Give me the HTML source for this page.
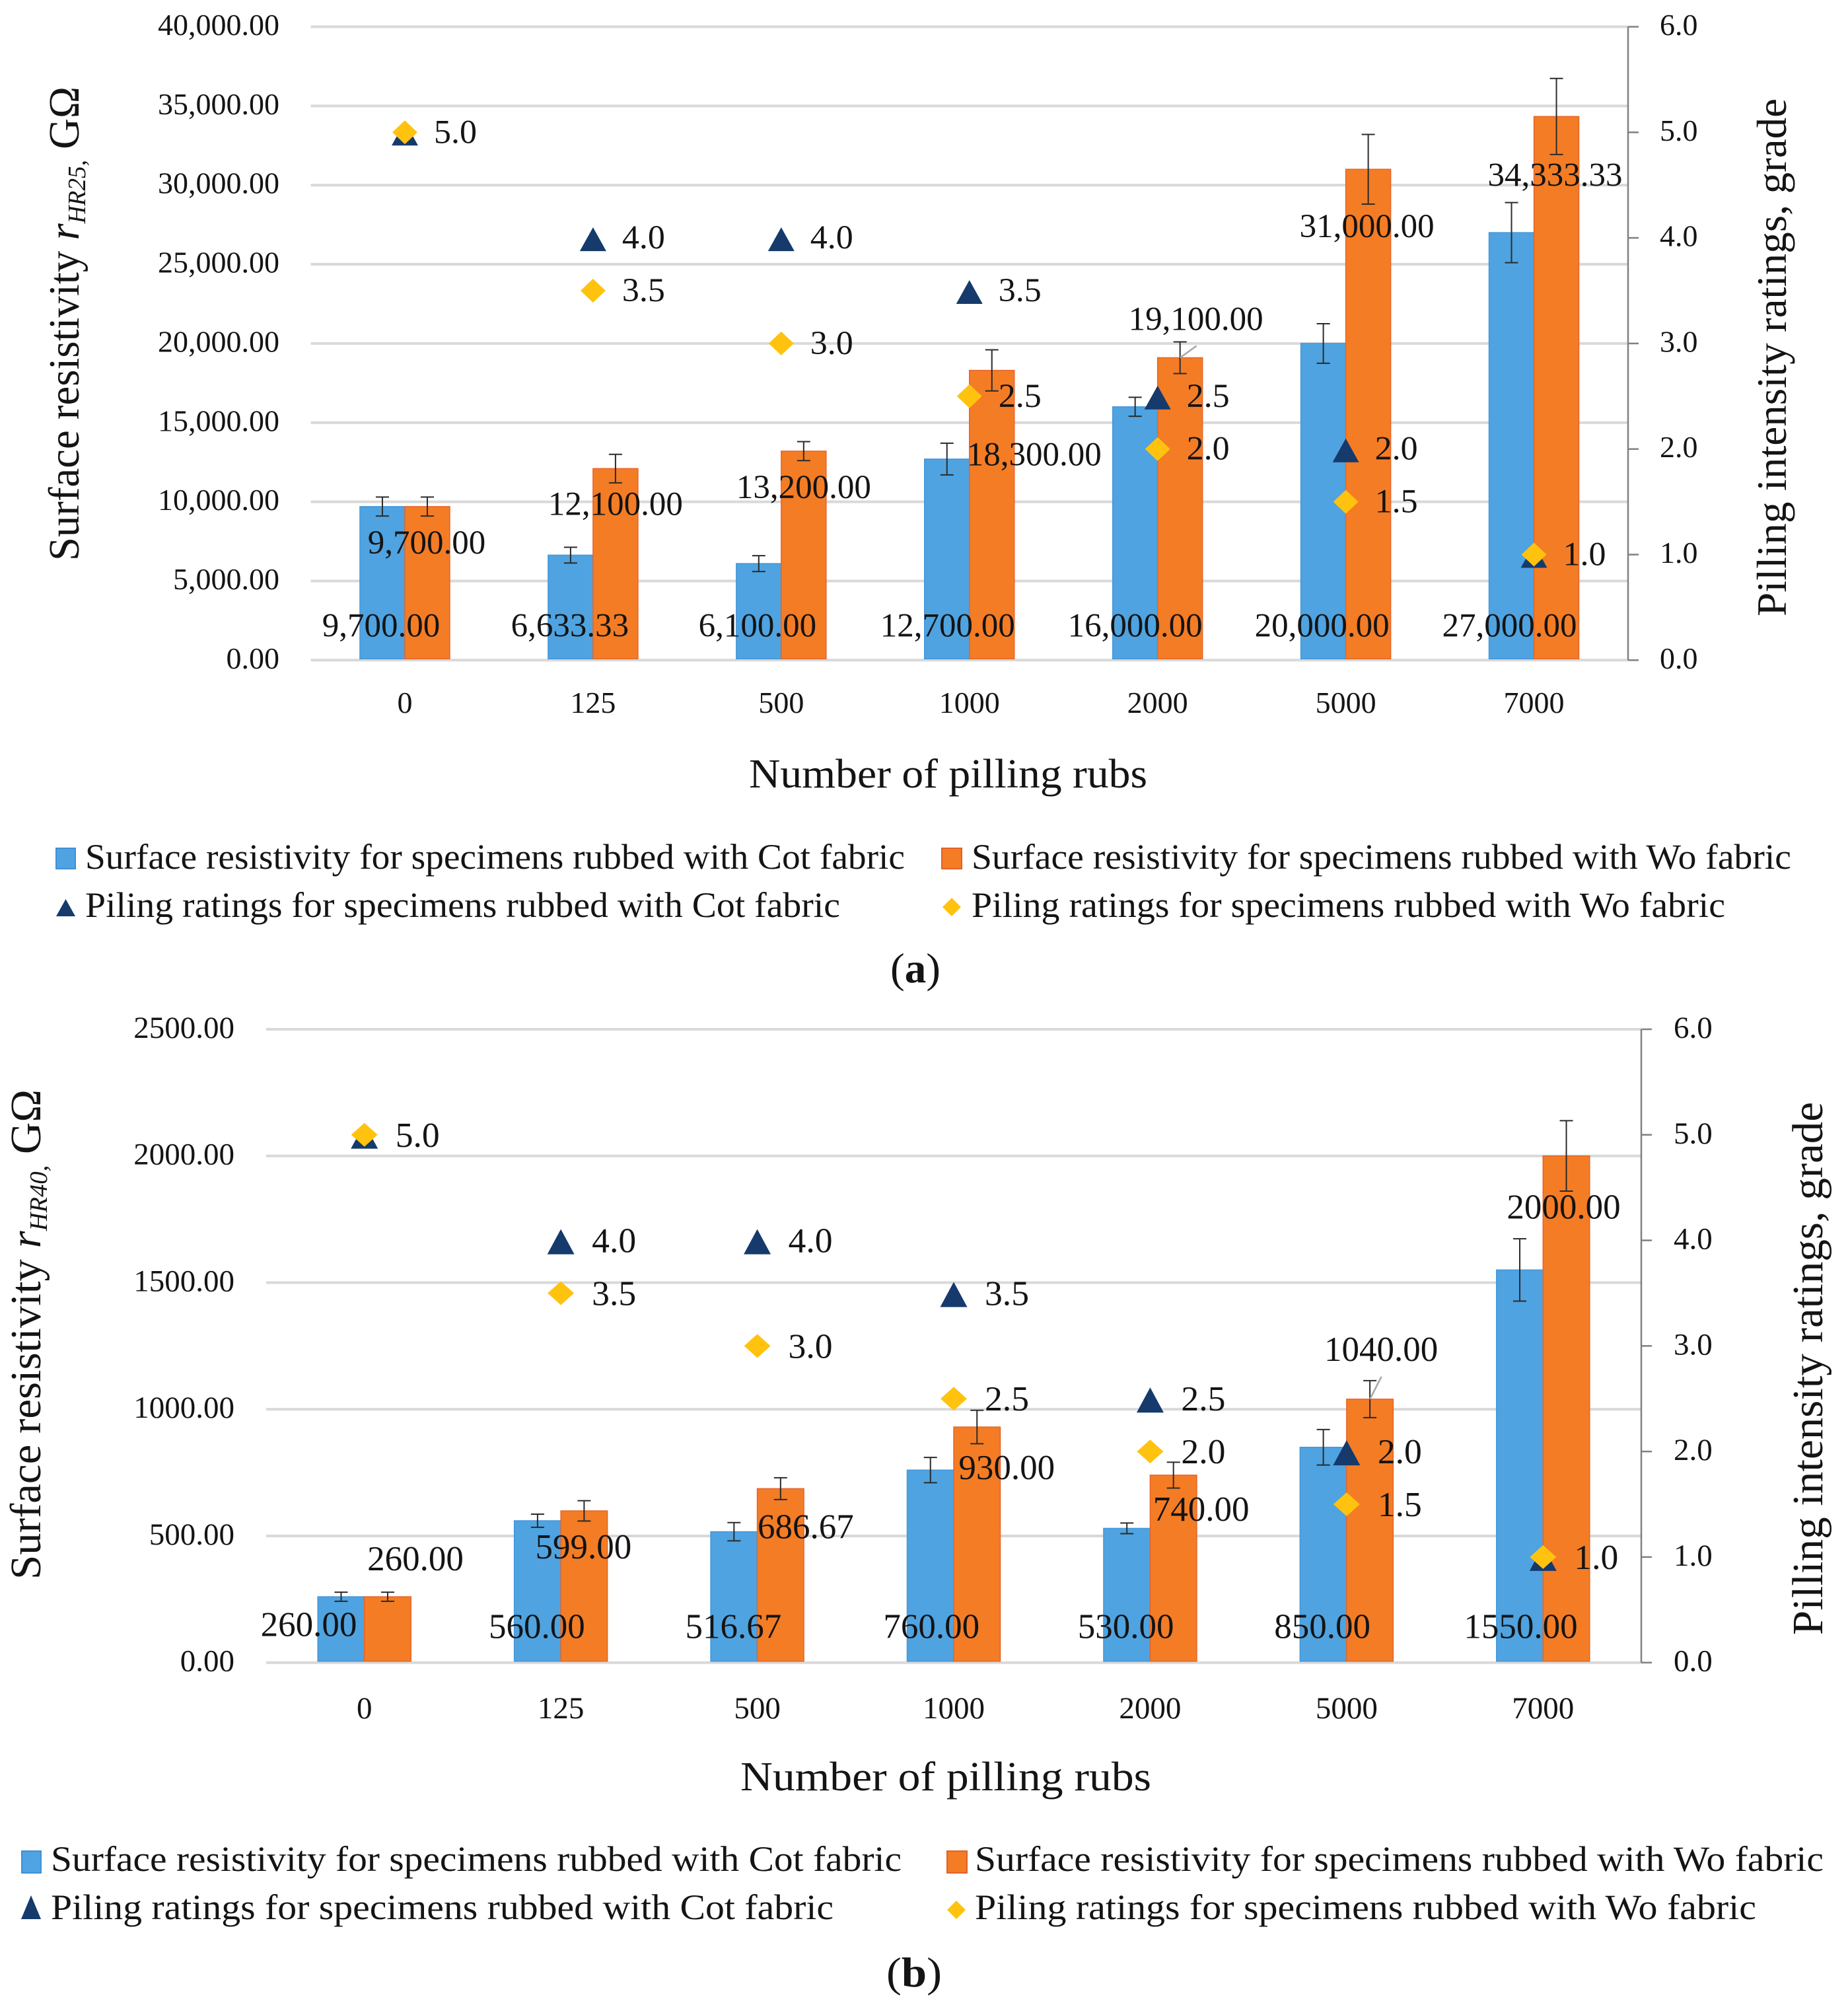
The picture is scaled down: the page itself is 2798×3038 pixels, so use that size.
<!DOCTYPE html>
<html>
<head>
<meta charset="utf-8">
<title>Surface resistivity and pilling ratings</title>
<style>
html,body{margin:0;padding:0;background:#fff;}
svg{display:block;}
text{font-family:"Liberation Serif",serif;fill:#141414;}
</style>
</head>
<body>
<svg id="figure" xmlns="http://www.w3.org/2000/svg" width="2798" height="3038" viewBox="0 0 2798 3038">
  <rect width="2798" height="3038" fill="#ffffff"/>
  <g id="chart-a"></g>
  <g id="chart-b"></g>

  <text x="1134" y="1192" font-size="62" textLength="603" lengthAdjust="spacingAndGlyphs">Number of pilling rubs</text>
  <text transform="translate(119,849) rotate(-90)" font-size="66" textLength="718" lengthAdjust="spacingAndGlyphs">Surface resistivity <tspan font-style="italic">r</tspan><tspan font-style="italic" font-size="38" dy="10">HR25,</tspan><tspan dy="-10"> GΩ</tspan></text>
  <text transform="translate(2704,933) rotate(-90)" font-size="64" textLength="784" lengthAdjust="spacingAndGlyphs">Pilling intensity ratings, grade</text>

  <g>
    <rect x="85" y="1284" width="29" height="31" fill="#4fa3e0" stroke="#3f8fd6" stroke-width="2"/>
    <text x="129" y="1315" font-size="54" textLength="1241" lengthAdjust="spacingAndGlyphs">Surface resistivity for specimens rubbed with Cot fabric</text>
    <rect x="1426" y="1284" width="30" height="31" fill="#f47c25" stroke="#e2602a" stroke-width="2"/>
    <text x="1471" y="1315" font-size="54" textLength="1241" lengthAdjust="spacingAndGlyphs">Surface resistivity for specimens rubbed with Wo fabric</text>
    <polygon points="85,1387 114,1387 99.5,1361" fill="#153a6b"/>
    <text x="129" y="1388" font-size="54" textLength="1143" lengthAdjust="spacingAndGlyphs">Piling ratings for specimens rubbed with Cot fabric</text>
    <polygon points="1441,1359 1455,1373 1441,1387 1427,1373" fill="#ffc30f"/>
    <text x="1471" y="1388" font-size="54" textLength="1141" lengthAdjust="spacingAndGlyphs">Piling ratings for specimens rubbed with Wo fabric</text>
  </g>
  <text x="1348" y="1487" font-size="64" textLength="76" lengthAdjust="spacingAndGlyphs">(<tspan font-weight="bold">a</tspan>)</text>

  <text x="1121" y="2710" font-size="62" textLength="622" lengthAdjust="spacingAndGlyphs">Number of pilling rubs</text>
  <text transform="translate(61,2391) rotate(-90)" font-size="66" textLength="742" lengthAdjust="spacingAndGlyphs">Surface resistivity <tspan font-style="italic">r</tspan><tspan font-style="italic" font-size="38" dy="10">HR40,</tspan><tspan dy="-10"> GΩ</tspan></text>
  <text transform="translate(2759,2475) rotate(-90)" font-size="66" textLength="807" lengthAdjust="spacingAndGlyphs">Pilling intensity ratings, grade</text>

  <g>
    <rect x="33" y="2802" width="29" height="33" fill="#4fa3e0" stroke="#3f8fd6" stroke-width="2"/>
    <text x="77" y="2832" font-size="54" textLength="1288" lengthAdjust="spacingAndGlyphs">Surface resistivity for specimens rubbed with Cot fabric</text>
    <rect x="1434" y="2802" width="30" height="33" fill="#f47c25" stroke="#e2602a" stroke-width="2"/>
    <text x="1476" y="2832" font-size="54" textLength="1285" lengthAdjust="spacingAndGlyphs">Surface resistivity for specimens rubbed with Wo fabric</text>
    <polygon points="32,2905 62,2905 47,2869" fill="#153a6b"/>
    <text x="77" y="2905" font-size="54" textLength="1185" lengthAdjust="spacingAndGlyphs">Piling ratings for specimens rubbed with Cot fabric</text>
    <polygon points="1448,2877 1462,2891 1448,2905 1434,2891" fill="#ffc30f"/>
    <text x="1476" y="2905" font-size="54" textLength="1183" lengthAdjust="spacingAndGlyphs">Piling ratings for specimens rubbed with Wo fabric</text>
  </g>
  <text x="1342" y="3007" font-size="64" textLength="84" lengthAdjust="spacingAndGlyphs">(<tspan font-weight="bold">b</tspan>)</text>
</svg>

<script>
// ---- Shared categories ----
const categories = ["0", "125", "500", "1000", "2000", "5000", "7000"];
const ratingTicks = [0, 1, 2, 3, 4, 5, 6];

// ---- Chart (a) data ----
const aResistivityTicks = [0, 5000, 10000, 15000, 20000, 25000, 30000, 35000, 40000];
const aCotResistivity = [9700, 6633.33, 6100, 12700, 16000, 20000, 27000];
const aWoResistivity = [9700, 12100, 13200, 18300, 19100, 31000, 34333.33];
const aCotError = [600, 500, 500, 1000, 600, 1250, 1900];
const aWoError = [600, 900, 600, 1300, 1000, 2200, 2400];
const aCotRating = [5, 4, 4, 3.5, 2.5, 2, 1];
const aWoRating = [5, 3.5, 3, 2.5, 2, 1.5, 1];

// ---- Chart (b) data ----
const bResistivityTicks = [0, 500, 1000, 1500, 2000, 2500];
const bCotResistivity = [260, 560, 516.67, 760, 530, 850, 1550];
const bWoResistivity = [260, 599, 686.67, 930, 740, 1040, 2000];
const bCotError = [18, 26, 36, 50, 21, 70, 123];
const bWoError = [18, 40, 43, 66, 51, 73, 139];
const bCotRating = [5, 4, 4, 3.5, 2.5, 2, 1];
const bWoRating = [5, 3.5, 3, 2.5, 2, 1.5, 1];

const SVGNS = 'http://www.w3.org/2000/svg';

function mk(tag, attrs, parent, txt) {
  const e = document.createElementNS(SVGNS, tag);
  for (const k in attrs) e.setAttribute(k, attrs[k]);
  if (txt !== undefined) e.textContent = txt;
  parent.appendChild(e);
  return e;
}

function drawChart(d, L) {
  const root = document.getElementById(L.id);
  const n = d.categories.length;
  const band = (L.right - L.left) / n;
  const xCat = i => L.left + (i + 0.5) * band;
  const yRes = v => L.bottom - (v / L.resMax) * (L.bottom - L.top);
  const yRate = v => L.bottom - (v / L.rateMax) * (L.bottom - L.top);

  // gridlines and left tick labels
  d.resTicks.forEach(t => {
    const g = mk('line', {x1: L.left, x2: L.right, y1: yRes(t), y2: yRes(t), stroke: '#d9d9d9', 'stroke-width': 4}, root);
    
    
    const lab = mk('text', {x: L.leftTickX, y: yRes(t) + L.tickBase, 'text-anchor': 'end', 'font-size': L.tickFont}, root, L.fmtTick(t));
    
    
  });

  // right axis
  const axis = mk('line', {x1: L.right, x2: L.right, y1: L.top, y2: L.bottom, stroke: '#808080', 'stroke-width': 2.5}, root);
  
  
  d.rateTicks.forEach(t => {
    const tk = mk('line', {x1: L.right, x2: L.right + 16, y1: yRate(t), y2: yRate(t), stroke: '#808080', 'stroke-width': 2.5}, root);
    
    
    const lab = mk('text', {x: L.rightTickX, y: yRate(t) + L.tickBase, 'font-size': L.tickFont}, root, t.toFixed(1));
    
    
  });

  // bars
  d.categories.forEach((c, i) => {
    const x = xCat(i);
    const b1 = mk('rect', {x: x - L.barW, y: yRes(d.cot[i]), width: L.barW, height: L.bottom - yRes(d.cot[i]) - 2, fill: '#4fa3e0', stroke: '#4596da', 'stroke-width': 1.5}, root);
    
    
    const b2 = mk('rect', {x: x, y: yRes(d.wo[i]), width: L.barW, height: L.bottom - yRes(d.wo[i]) - 2, fill: '#f47c25', stroke: '#e5652a', 'stroke-width': 1.5}, root);
    
    
    const t = mk('text', {x: x, y: L.catBase, 'text-anchor': 'middle', 'font-size': L.tickFont}, root, c);
    
    
  });

  // error bars
  function err(cx, v, e, name) {
    const g = mk('path', {
      d: 'M' + (cx - 10) + ' ' + yRes(v + e) + 'H' + (cx + 10) + 'M' + cx + ' ' + yRes(v + e) + 'V' + yRes(v - e) + 'M' + (cx - 10) + ' ' + yRes(v - e) + 'H' + (cx + 10),
      fill: 'none', stroke: '#2b2b2b', 'stroke-width': 2
    }, root);
    
    
  }
  d.categories.forEach((c, i) => {
    err(xCat(i) - L.barW / 2, d.cot[i], d.cotErr[i], 'error-bar-cot-' + c);
    err(xCat(i) + L.barW / 2, d.wo[i], d.woErr[i], 'error-bar-wo-' + c);
  });

  // leader line
  const li = L.leader.i;
  const lx = xCat(li) + L.barW / 2;
  const ly = yRes(d.wo[li]);
  const leader = mk('line', {x1: lx, y1: ly, x2: lx + L.leader.dx, y2: ly + L.leader.dy, stroke: '#a6a6a6', 'stroke-width': 2.5}, root);
  
  

  // rating markers
  d.categories.forEach((c, i) => {
    const x = xCat(i);
    const yc = yRate(d.cotRate[i]) + 2;
    const tri = mk('polygon', {
      points: (x - L.triW / 2) + ',' + (yc + L.triH / 2) + ' ' + (x + L.triW / 2) + ',' + (yc + L.triH / 2) + ' ' + x + ',' + (yc - L.triH / 2),
      fill: '#153a6b'
    }, root);
    
    
  });
  d.categories.forEach((c, i) => {
    const x = xCat(i);
    const yw = yRate(d.woRate[i]);
    const dia = mk('polygon', {
      points: x + ',' + (yw - L.diaH / 2) + ' ' + (x + L.diaW / 2) + ',' + yw + ' ' + x + ',' + (yw + L.diaH / 2) + ' ' + (x - L.diaW / 2) + ',' + yw,
      fill: '#ffc30f'
    }, root);
    
    
  });

  // rating labels
  d.categories.forEach((c, i) => {
    const x = xCat(i) + L.rateDx;
    const a = mk('text', {x: x, y: yRate(d.cotRate[i]) + L.rateBase, 'font-size': L.labelFont, textLength: L.rateLen, lengthAdjust: 'spacingAndGlyphs'}, root, d.cotRate[i].toFixed(1));
    
    
    if (d.woRate[i] !== d.cotRate[i]) {
      const b = mk('text', {x: x, y: yRate(d.woRate[i]) + L.rateBase, 'font-size': L.labelFont, textLength: L.rateLen, lengthAdjust: 'spacingAndGlyphs'}, root, d.woRate[i].toFixed(1));
      
      
    }
  });

  // value labels
  d.categories.forEach((c, i) => {
    const a = mk('text', {
      x: xCat(i) - L.barW / 2 + L.cotNudgeX[i],
      y: L.bottom + L.cotNudgeY[i],
      'text-anchor': 'middle', 'font-size': L.labelFont
    }, root, L.fmtValue(d.cot[i]));
    
    
    const b = mk('text', {
      x: xCat(i) + L.barW / 2 + L.woNudgeX[i],
      y: yRes(d.wo[i]) + L.woNudgeY[i],
      'text-anchor': 'middle', 'font-size': L.labelFont
    }, root, L.fmtValue(d.wo[i]));
    
    
  });
}

const fmtComma = v => v.toLocaleString('en-US', {minimumFractionDigits: 2, maximumFractionDigits: 2});
const fmtPlain = v => v.toFixed(2);

drawChart(
  {categories: categories, resTicks: aResistivityTicks, rateTicks: ratingTicks, cot: aCotResistivity, wo: aWoResistivity,
   cotErr: aCotError, woErr: aWoError, cotRate: aCotRating, woRate: aWoRating},
  {id: 'chart-a', left: 470.5, right: 2465, top: 40.5, bottom: 999.3, resMax: 40000, rateMax: 6,
   barW: 68, leftTickX: 423, rightTickX: 2513, tickBase: 12.5, tickFont: 46, catBase: 1079, labelFont: 51,
   triW: 40, triH: 36, diaW: 38, diaH: 36, rateDx: 44, rateLen: 65, rateBase: 16,
   fmtTick: fmtComma, fmtValue: fmtComma,
   leader: {i: 4, dx: 25, dy: -18},
   cotNudgeX: [-2, -1, -2, 1, 0, -2, -3],
   cotNudgeY: [-36, -36, -36, -36, -36, -36, -36],
   woNudgeX: [-1, 0, 0, 64, 24, -2, -2],
   woNudgeY: [71, 70, 71, 144, -42, 103, 105]}
);

drawChart(
  {categories: categories, resTicks: bResistivityTicks, rateTicks: ratingTicks, cot: bCotResistivity, wo: bWoResistivity,
   cotErr: bCotError, woErr: bWoError, cotRate: bCotRating, woRate: bWoRating},
  {id: 'chart-b', left: 403, right: 2485, top: 1558, bottom: 2516.7, resMax: 2500, rateMax: 6,
   barW: 70.5, leftTickX: 355, rightTickX: 2534, tickBase: 13, tickFont: 47, catBase: 2601, labelFont: 53,
   triW: 41, triH: 38, diaW: 40, diaH: 36, rateDx: 47, rateLen: 67, rateBase: 18,
   fmtTick: fmtPlain, fmtValue: fmtPlain,
   leader: {i: 5, dx: 17.5, dy: -34},
   cotNudgeX: [-49, -1, -1, 1.5, -1.5, -1.5, 1.5],
   cotNudgeY: [-40, -37, -37, -37, -37, -37, -37],
   woNudgeX: [42, -1, 38, 45, 42, 17, -4],
   woNudgeY: [-40, 72, 75, 79, 69, -58, 95]}
);
</script>
</body>
</html>
